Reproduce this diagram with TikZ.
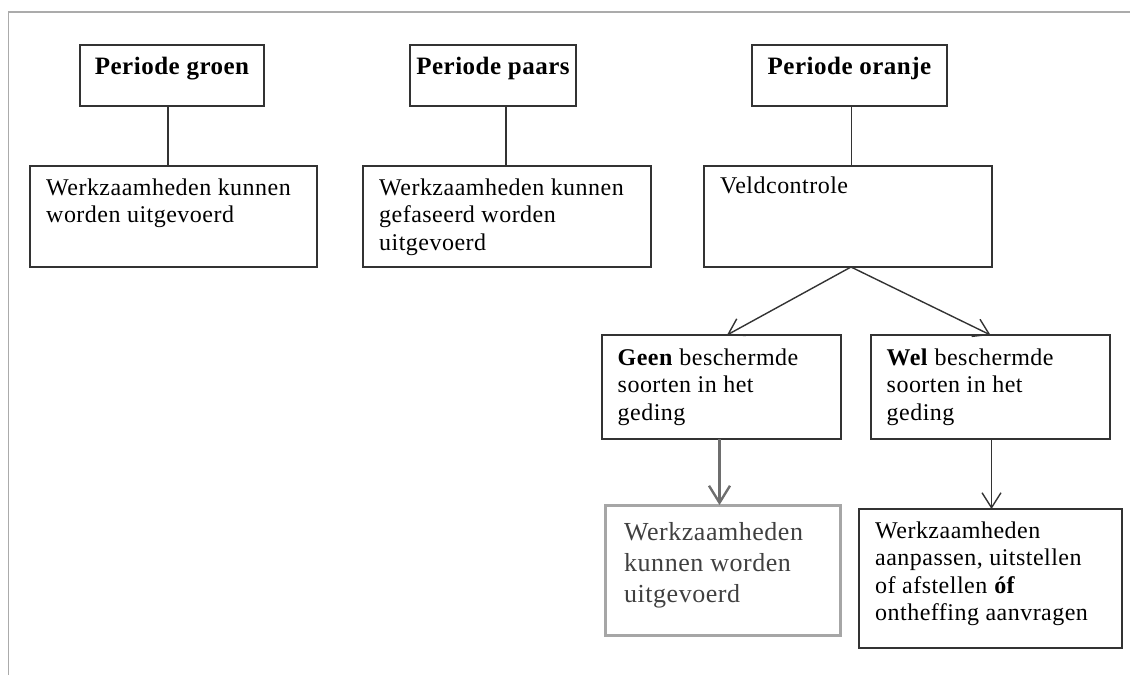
\documentclass[tikz,border=0pt]{standalone}
\usepackage{fontspec}
\setmainfont{Liberation Serif}[LetterSpace=2]
\usetikzlibrary{arrows.meta}
\definecolor{edgec}{HTML}{333333}
\definecolor{framec}{HTML}{ABABAB}
\definecolor{greyc}{HTML}{A6A6A6}
\definecolor{greyarrow}{HTML}{6E6E6E}
\definecolor{greytext}{HTML}{404040}
\newcommand{\tl}[1]{\begin{tabular}[t]{@{}l@{}}#1\end{tabular}}
\tikzset{
  box/.style={draw=edgec, line width=1.4pt, inner sep=0pt, outer sep=0pt, anchor=north west},
  greybox/.style={draw=greyc, line width=3pt, inner sep=0pt, outer sep=0pt, anchor=north west},
  hdr/.style={inner sep=0pt, anchor=base, font=\fontsize{25}{29}\selectfont\bfseries},
  txt/.style={inner sep=0pt, anchor=base west, font=\fontsize{24}{27.5}\selectfont},
  gtxt/.style={inner sep=0pt, anchor=base west, text=greytext, font=\fontsize{26}{31}\selectfont},
  link/.style={draw=edgec, line width=1.4pt},
  arr/.style={draw=edgec, line width=1.4pt, -{Straight Barb[length=15pt,width=19pt,line width=1.4pt]}},
  garr/.style={draw=greyarrow, line width=2.4pt, -{Straight Barb[length=17pt,width=21pt,line width=2.4pt]}}
}
\begin{document}
\begin{tikzpicture}[x=1pt,y=-1pt]
\useasboundingbox (0,0) rectangle (1130,675);
\draw[framec, line width=1.6pt] (8.5,675) -- (8.5,12) -- (1130,12);

% header boxes
\node[box, minimum width=184pt, minimum height=61pt] (hg) at (80,45) {};
\node[box, minimum width=166pt, minimum height=61pt] (hp) at (410,45) {};
\node[box, minimum width=195pt, minimum height=61pt] (ho) at (752,45) {};
% second row
\node[box, minimum width=287pt, minimum height=101pt] (b1) at (30,166) {};
\node[box, minimum width=288pt, minimum height=101pt] (b2) at (363,166) {};
\node[box, minimum width=288pt, minimum height=101pt] (bv) at (704,166) {};
% third row
\node[box, minimum width=239pt, minimum height=104pt] (bg) at (602,335) {};
\node[box, minimum width=239pt, minimum height=104pt] (bw) at (871,335) {};
% fourth row
\node[greybox, minimum width=235pt, minimum height=130pt] (bz) at (605,505) {};
\node[box, minimum width=263pt, minimum height=139pt] (ba) at (859,509) {};

% texts
\node[hdr] (thg) at ([yshift=-29.5pt]hg.north) {Periode groen};
\node[hdr] (thp) at ([yshift=-29.5pt]hp.north) {Periode paars};
\node[hdr] (tho) at ([yshift=-29.5pt]ho.north) {Periode oranje};
\node[txt] (tb1) at ([xshift=16pt,yshift=-29pt]b1.north west) {\tl{Werkzaamheden kunnen\\worden uitgevoerd}};
\node[txt] (tb2) at ([xshift=16pt,yshift=-29pt]b2.north west) {\tl{Werkzaamheden kunnen\\gefaseerd worden\\uitgevoerd}};
\node[txt] (tbv) at ([xshift=16pt,yshift=-27pt]bv.north west) {Veldcontrole};
\node[txt] (tbg) at ([xshift=15.5pt,yshift=-30pt]bg.north west) {\tl{\textbf{Geen} beschermde\\soorten in het\\geding}};
\node[txt] (tbw) at ([xshift=15.5pt,yshift=-30pt]bw.north west) {\tl{\textbf{Wel} beschermde\\soorten in het\\geding}};
\node[gtxt] (tbz) at ([xshift=19pt,yshift=-35pt]bz.north west) {\tl{Werkzaamheden\\kunnen worden\\uitgevoerd}};
\node[txt] (tba) at ([xshift=16pt,yshift=-29.3pt]ba.north west) {\tl{Werkzaamheden\\aanpassen, uitstellen\\of afstellen \textbf{óf}\\ontheffing aanvragen}};

% connectors
\draw[link] ([xshift=-4pt]hg.south) -- ([xshift=-4pt]hg.south |- b1.north);
\draw[link] ([xshift=13pt]hp.south) -- ([xshift=13pt]hp.south |- b2.north);
\draw[link] ([xshift=2pt]ho.south) -- ([xshift=2pt]ho.south |- bv.north);
\coordinate (vs) at ([xshift=3pt]bv.south);
\draw[arr] (vs) -- ([xshift=5.5pt]bg.north);
\draw[arr] (vs) -- (bw.north);
\draw[garr] ([xshift=-2pt]bg.south) -- ([xshift=-2pt]bg.south |- bz.north);
\draw[arr] ([xshift=1pt]bw.south) -- ([xshift=1pt]bw.south |- ba.north);
\end{tikzpicture}
\end{document}
